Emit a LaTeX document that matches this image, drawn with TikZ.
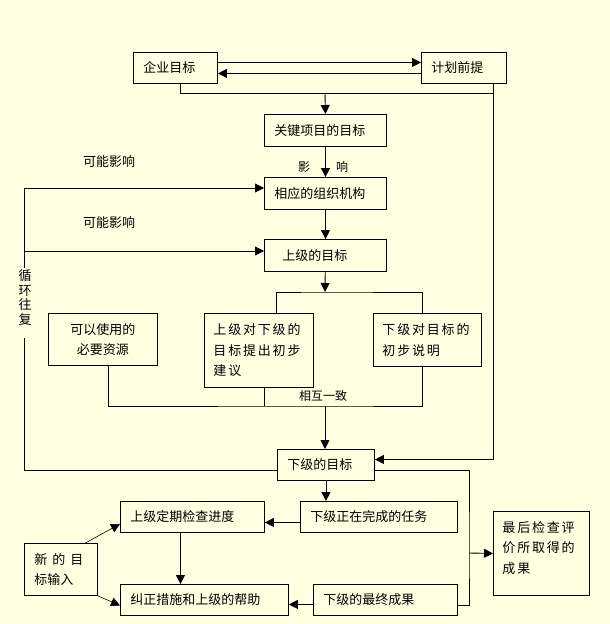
\documentclass[tikz,border=0pt]{standalone}
\usepackage{fontspec}
\setmainfont{Noto Sans CJK SC}
\newfontfamily\widecjk[LetterSpace=14]{Noto Sans CJK SC}
\usetikzlibrary{arrows.meta,positioning}
\definecolor{paper}{RGB}{255,255,225}
\tikzset{%
	block/.style    = {draw, rectangle, anchor=north west, inner xsep=10pt, inner ysep=0pt, minimum height=31pt, align=left}, % Box
	widebox/.style  = {font=\widecjk\fontsize{13pt}{20.5pt}\selectfont}, % spaced text
	note/.style     = {inner sep=0pt, font=\fontsize{12pt}{14pt}\selectfont}, % small label
	waypoint/.style = {coordinate},
	arrow/.style    = {-{Triangle[length=9pt,width=9pt]}},
}

\begin{document}
\begin{tikzpicture}[x=1pt,y=-1pt,line width=0.9pt,font=\fontsize{13pt}{20pt}\selectfont]
	\fill[paper] (0,0) rectangle (610,624);
	\useasboundingbox (0,0) rectangle (610,624);

	\node [block,text width=64pt] (qiye) at (133,52) {企业目标};
	\node [block,text width=65pt] (jihua) at (421,52) {计划前提};
	\node [block,text width=102pt,minimum height=32pt] (guanjian) at (264,114) {关键项目的目标};
	\node [block,text width=102pt,minimum height=32pt] (zuzhi) at (264,177) {相应的组织机构};
	\node [block,text width=86pt,inner xsep=18pt,minimum height=32pt] (sjmb) at (264,239) {上级的目标};
	\node [block,text width=89pt,minimum height=52pt,align=center] (keyi) at (48,313) {可以使用的\\必要资源};
	\node [block,widebox,text width=91pt,inner xsep=9pt,minimum height=74pt] (sjdx) at (204,313) {上级对下级的\\目标提出初步\\建议};
	\node [block,widebox,text width=90pt,inner xsep=9pt,minimum height=53pt] (xjdm) at (373,313) {下级对目标的\\初步说明};
	\node [block,text width=77pt] (xjmb) at (277,449) {下级的目标};
	\node [block,text width=124pt] (sjdq) at (120,501) {上级定期检查进度};
	\node [block,text width=137pt] (xjzz) at (300,501) {下级正在完成的任务};
	\node [block,text width=53pt,minimum height=52pt] (xinmu) at (24,543) {新\hspace{5pt}的\hspace{5pt}目\\标输入};
	\node [block,text width=148pt] (jiuzheng) at (120,584) {纠正措施和上级的帮助};
	\node [block,text width=124pt] (zuizhong) at (313,584) {下级的最终成果};
	\node [block,widebox,text width=78pt,inner xsep=9pt,minimum height=84pt] (zuihou) at (493,511) {最后检查评\\价所取得的\\成果\\[-8.5pt]\mbox{}};

	\node (kn1) at (109,162) {可能影响};
	\node (kn2) at (109,223) {可能影响};
	\node [note] (ying) at (304,167) {影};
	\node [note] (xiang) at (342,167) {响};
	\node [note] (xhyz) at (323,396) {相互一致};
	\node [align=center,inner sep=0pt,font=\fontsize{13pt}{14.7pt}\selectfont] (xunhuan) at (25,297.5) {循\\环\\往\\复};

	\node [waypoint] (jq) at (325,93) {};
	\node [waypoint] (jr) at (493,93) {};
	\node [waypoint] (lt) at (24,188) {};
	\node [waypoint] (lm) at (24,251) {};
	\node [waypoint] (la) at (24,268) {};
	\node [waypoint] (lb) at (24,338) {};
	\node [waypoint] (split) at (325,292) {};
	\node [waypoint] (merge) at (325,406) {};
	\node [waypoint] (rc) at (469,553) {};

	\draw[arrow] ([yshift=5.5pt]qiye.east) -- ([yshift=5.5pt]jihua.west);
	\draw[arrow] ([yshift=-5.5pt]jihua.west) -- ([yshift=-5.5pt]qiye.east);
	\draw ([xshift=5pt]qiye.south) |- (jr);
	\draw[arrow] (jihua.south -| jr) |- ([yshift=5.5pt]xjmb.east);
	\draw[arrow] (jq) -- (guanjian.north);
	\draw[arrow] (guanjian) -- (zuzhi);
	\draw[arrow] (zuzhi) -- (sjmb);

	\draw[arrow] (lt) -- (lt -| zuzhi.west);
	\draw (lt) -- (la);
	\draw[arrow] (lm) -- (lm -| sjmb.west);
	\draw (lb) |- ([yshift=-5.5pt]xjmb.west);

	\draw[arrow] (sjmb) -- (split);
	\draw ([xshift=17.5pt]sjdx.north) |- (split) -| ([xshift=-5pt]xjdm.north);
	\draw ([xshift=5.5pt]keyi.south) |- (merge) -| ([xshift=-5pt]xjdm.south);
	\draw ([xshift=5.5pt]sjdx.south) -- ([xshift=5.5pt]sjdx.south |- merge);
	\draw[arrow] (merge) -- (merge |- xjmb.north);

	\draw[arrow] (xjmb.south) -- (xjmb.south |- xjzz.north);
	\draw[arrow] ([yshift=-5.5pt]xjzz.west) -- ([yshift=-5.5pt]sjdq.east);
	\draw[arrow] ([xshift=-12pt]sjdq.south) -- ([xshift=-12pt]sjdq.south |- jiuzheng.north);
	\draw[arrow] ([yshift=-4.5pt]zuizhong.west) -- ([yshift=-4.5pt]jiuzheng.east);
	\draw ([yshift=-5.5pt]xjmb.east) -| (rc) |- ([yshift=-5.5pt]zuizhong.east);
	\draw[arrow] (rc) -- (zuihou.west);
	\draw[arrow,line width=0.6pt] ([xshift=24.5pt]xinmu.north) -- ([yshift=9pt]sjdq.south west);
	\draw[arrow,line width=0.6pt] (xinmu.south east) -- ([yshift=-5.5pt]jiuzheng.west);
\end{tikzpicture}
\end{document}
